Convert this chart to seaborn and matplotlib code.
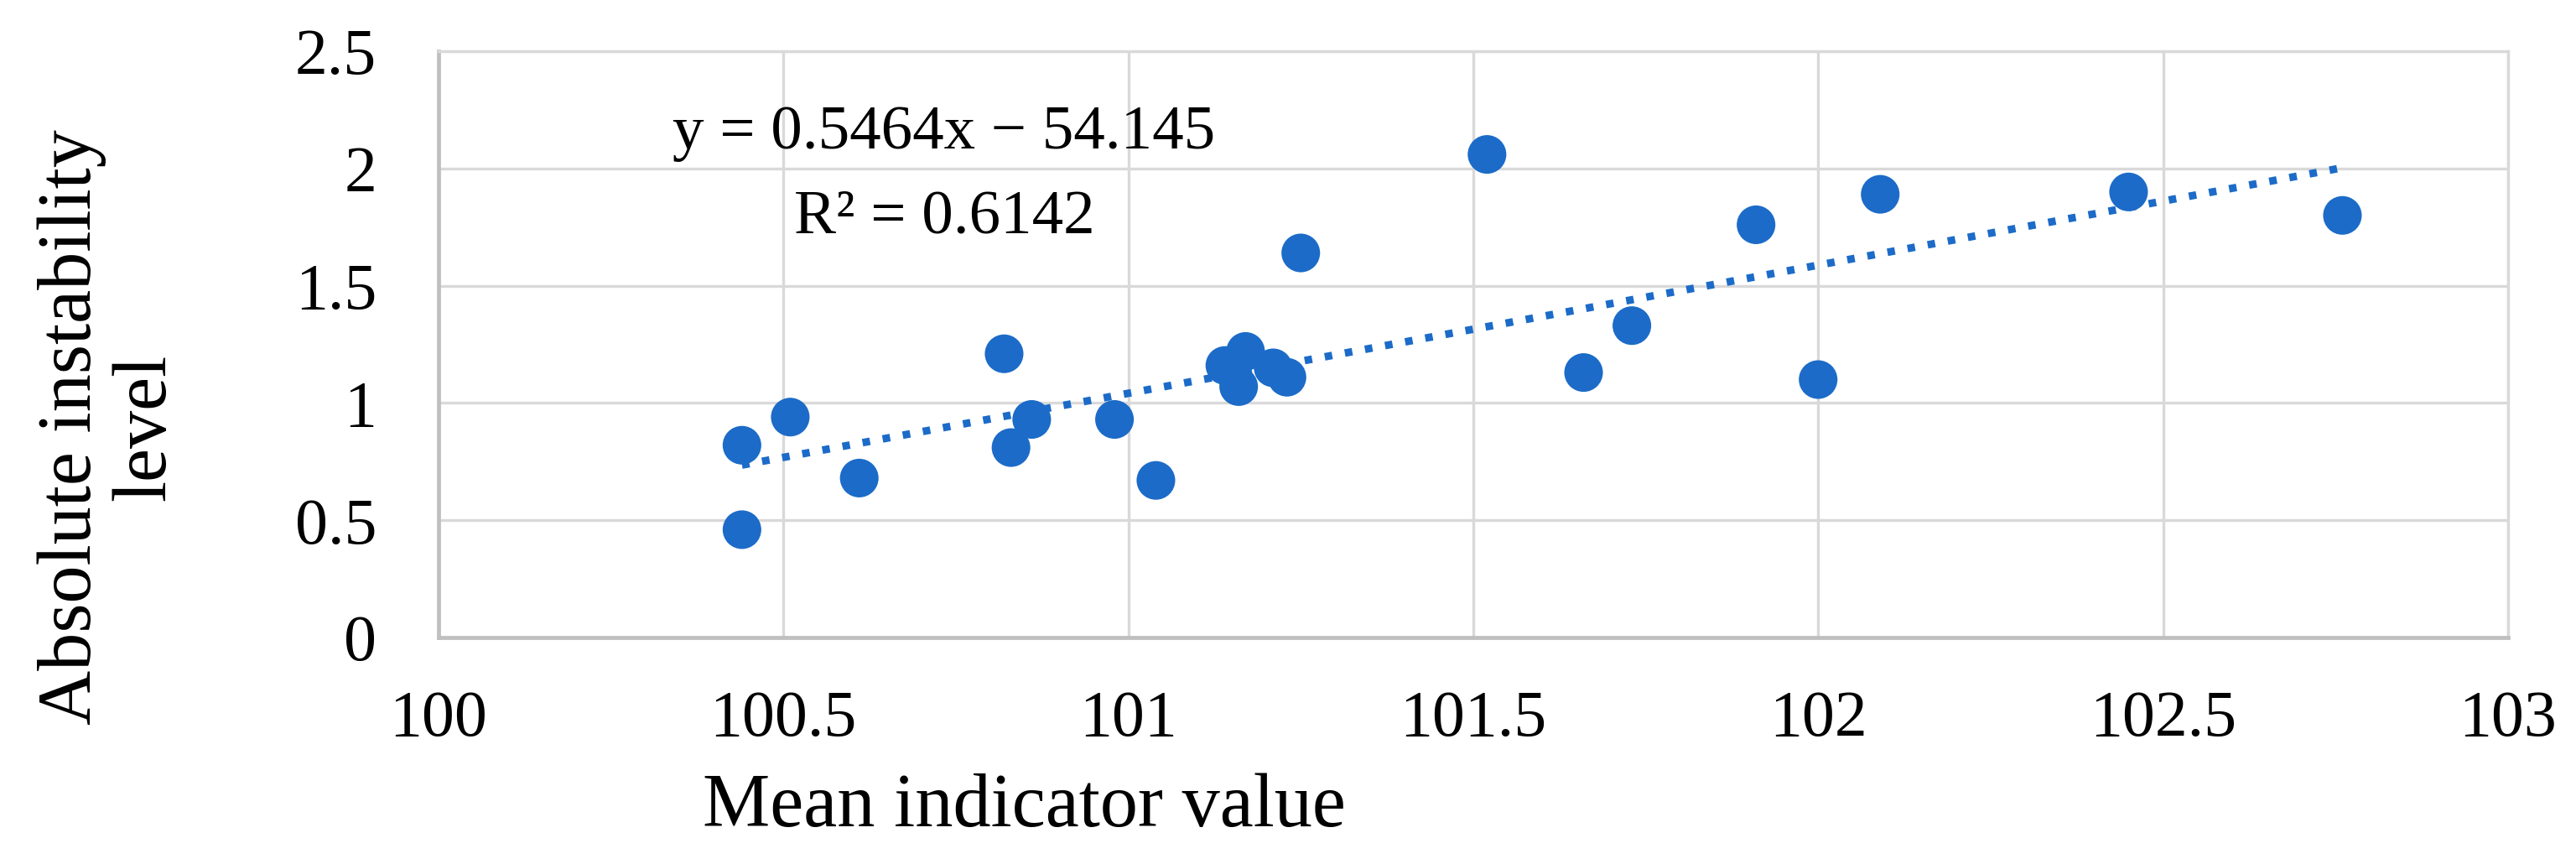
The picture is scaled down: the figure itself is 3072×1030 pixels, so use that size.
#!/usr/bin/env python3
"""
Scatter of absolute instability level vs mean indicator value,
with the Excel-style linear trendline and its equation.
"""

from __future__ import annotations

import numpy as np
import pandas as pd
import matplotlib
matplotlib.use("Agg")
import matplotlib.pyplot as plt
import seaborn as sns


# ──────────────────────────────────────────────────────────────────────────────
# DATA
# ──────────────────────────────────────────────────────────────────────────────

mean_indicator = [
    100.44, 100.44, 100.51, 100.61, 100.82, 100.83, 100.86, 100.98,
    101.04, 101.14, 101.16, 101.17, 101.21, 101.23, 101.25, 101.52,
    101.66, 101.73, 101.91, 102.00, 102.09, 102.45, 102.76,
]
instability = [
    0.82, 0.46, 0.94, 0.68, 1.21, 0.81, 0.93, 0.93,
    0.67, 1.16, 1.07, 1.22, 1.15, 1.11, 1.64, 2.06,
    1.13, 1.33, 1.76, 1.10, 1.89, 1.90, 1.80,
]

# trendline as reported in the chart
SLOPE = 0.5464
INTERCEPT = -54.145
R2 = 0.6142

X_LABEL = "Mean indicator value"
Y_LABEL = "Absolute instability\nlevel"
X_TICKS = [100, 100.5, 101, 101.5, 102, 102.5, 103]
Y_TICKS = [0, 0.5, 1, 1.5, 2, 2.5]


# ──────────────────────────────────────────────────────────────────────────────
# CONFIG
# ──────────────────────────────────────────────────────────────────────────────

OUT_PNG = "out.png"
FIGSIZE = (30.72, 10.30)
DPI = 100
POINT_COLOR = "#1C6BC8"
GRID_COLOR = "#D9D9D9"
AXIS_COLOR = "#BFBFBF"
FONT = ["Liberation Serif", "DejaVu Serif"]
TICK_SIZE = 56
EQ_SIZE = 54
LABEL_SIZE = 65


def main() -> None:
    sns.set_theme(style="whitegrid")
    plt.rcParams["font.family"] = FONT
    plt.rcParams["text.color"] = "black"

    df = pd.DataFrame({"x": mean_indicator, "y": instability})

    fig = plt.figure(figsize=FIGSIZE, dpi=DPI)
    ax = fig.add_axes([0.1702, 0.2621, 0.8034, 0.6786])

    sns.scatterplot(data=df, x="x", y="y", ax=ax, s=1100, color=POINT_COLOR,
                    edgecolor="none", zorder=3)

    # dotted linear trendline across the data range
    xs = np.array([df["x"].min(), df["x"].max()])
    ax.plot(xs, SLOPE * xs + INTERCEPT, color=POINT_COLOR, lw=6.5,
            linestyle=(0, (1, 1.7)), zorder=4)

    ax.set_xlim(100, 103)
    ax.set_ylim(0, 2.5)
    ax.set_xticks(X_TICKS)
    ax.set_yticks(Y_TICKS)
    ax.set_xticklabels([f"{t:g}" for t in X_TICKS])
    ax.set_yticklabels([f"{t:g}" for t in Y_TICKS])
    ax.tick_params(axis="both", labelsize=TICK_SIZE, length=0, colors="black")
    ax.tick_params(axis="x", pad=45)
    ax.tick_params(axis="y", pad=53)

    ax.grid(True, color=GRID_COLOR, linewidth=2.4)
    for side, sp in ax.spines.items():
        sp.set_visible(True)
        if side in ("top", "right"):
            sp.set_color(GRID_COLOR)
            sp.set_linewidth(2.4)
        else:
            sp.set_color(AXIS_COLOR)
            sp.set_linewidth(3.4)

    ax.set_xlabel("")
    ax.set_ylabel("")
    fig.text(1221 / 3072, 1 - 985 / 1030, X_LABEL, fontsize=LABEL_SIZE,
             ha="center", va="baseline", color="black")
    fig.text(130 / 3072, 1 - 509 / 1030, Y_LABEL, fontsize=LABEL_SIZE, rotation=90,
             ha="center", va="center", multialignment="center", linespacing=1.1,
             color="black")

    ax.text(100.733, 2.085, f"y = {SLOPE}x − {abs(INTERCEPT)}", fontsize=EQ_SIZE,
            ha="center", va="baseline", color="black", zorder=5)
    ax.text(100.733, 1.727, f"R² = {R2}", fontsize=EQ_SIZE,
            ha="center", va="baseline", color="black", zorder=5)

    fig.savefig(OUT_PNG, dpi=DPI)
    plt.close(fig)


if __name__ == "__main__":
    main()
